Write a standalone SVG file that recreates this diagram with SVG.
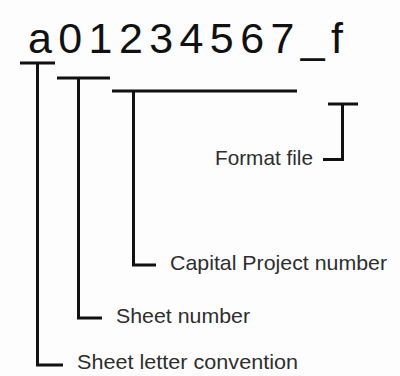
<svg xmlns="http://www.w3.org/2000/svg" width="400" height="376" viewBox="0 0 400 376">
<style>
.ln{fill:none;stroke:#111;stroke-width:3;stroke-linecap:butt;stroke-linejoin:miter}
.lbl{font-family:"Liberation Sans","Open Sans",Arial,sans-serif;font-size:21px;fill:#2e2e2e}
.title{font-family:"Liberation Sans","Open Sans",Arial,sans-serif;font-size:43px;fill:#111}
</style>
<rect width="400" height="376" fill="#fdfdfd"/>
<g id="title"><text class="title" x="28" y="53" textLength="315" lengthAdjust="spacing">a01234567_f</text></g>
<g id="connectors">
<path class="ln" d="M20 63H55M37.5 63V365H63"/>
<path class="ln" d="M57 78H110M78.5 78V318H102"/>
<path class="ln" d="M112 91H297M133.5 91V265H156"/>
<path class="ln" d="M328 104H358M342.5 104V159.5H323"/>
</g>
<g id="format-file"><text class="lbl" x="215" y="165" textLength="98" lengthAdjust="spacingAndGlyphs">Format file</text></g>
<g id="capital-project-number"><text class="lbl" x="170" y="270" textLength="217" lengthAdjust="spacingAndGlyphs">Capital Project number</text></g>
<g id="sheet-number"><text class="lbl" x="116" y="323" textLength="134" lengthAdjust="spacingAndGlyphs">Sheet number</text></g>
<g id="sheet-letter-convention"><text class="lbl" x="77" y="369" textLength="221" lengthAdjust="spacingAndGlyphs">Sheet letter convention</text></g>
</svg>
